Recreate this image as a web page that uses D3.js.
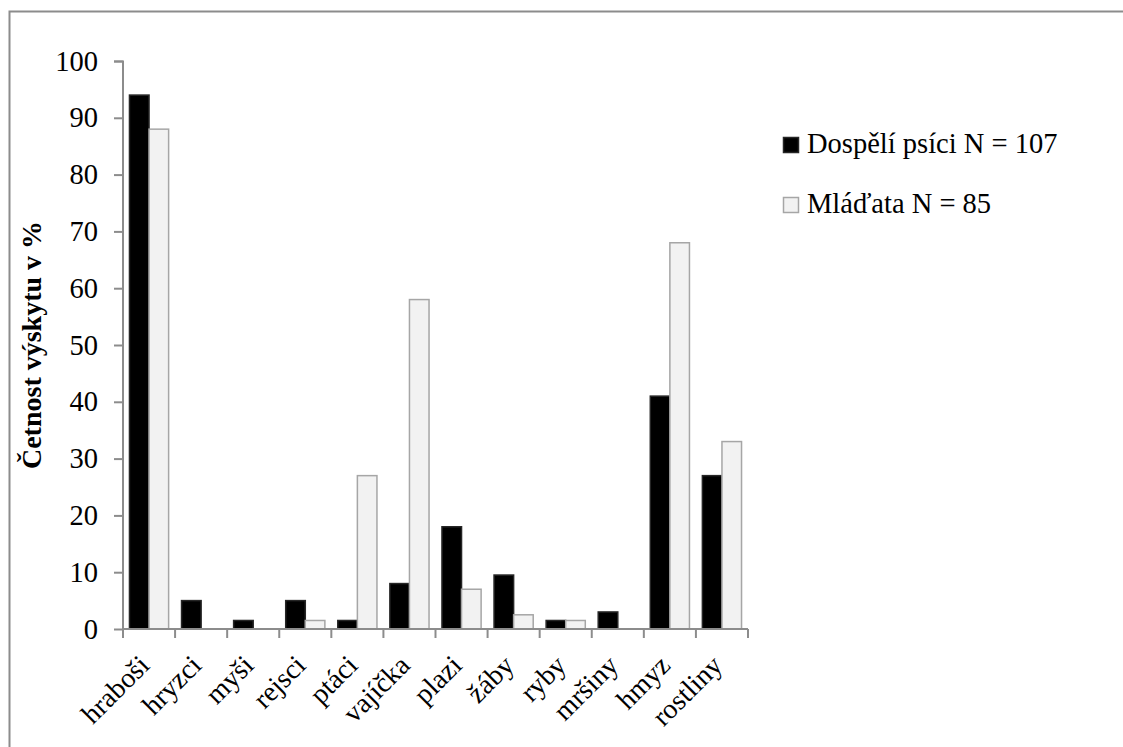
<!DOCTYPE html>
<html>
<head>
<meta charset="utf-8">
<script src="https://cdn.jsdelivr.net/npm/d3@7"></script>
<style>
  html, body { margin: 0; padding: 0; background: #fff; }
  svg { display: block; }
  text { font-family: "Liberation Serif", "DejaVu Serif", serif; fill: #000; }
</style>
</head>
<body>
<svg id="chart" width="1123" height="747"></svg>
<script>
// Food categories and occurrence (%) for adults and young
const categories = ["hraboši", "hryzci", "myši", "rejsci", "ptáci", "vajíčka", "plazi", "žáby", "ryby", "mršiny", "hmyz", "rostliny"];
const adults = [94, 5, 1.5, 5, 1.5, 8, 18, 9.5, 1.5, 3, 41, 27];
const young = [88, 0, 0, 1.5, 27, 58, 7, 2.5, 1.5, 0, 68, 33];
const seriesNames = ["Dospělí psíci N = 107", "Mláďata N = 85"];
const yTicks = [0, 10, 20, 30, 40, 50, 60, 70, 80, 90, 100];
const yTitle = "Četnost výskytu v %";

const svg = d3.select("#chart");
const W = 1123, H = 747;
const m = { left: 123, right: 375, top: 61, bottom: 118 };
const plotW = W - m.left - m.right;
const plotH = H - m.top - m.bottom;

const axisColor = "#8c8c8c";
const fills = ["#000000", "#f2f2f2"];
const strokes = ["#262626", "#a6a6a6"];

// outer frame
svg.append("rect")
  .attr("x", 9.5).attr("y", 11.5)
  .attr("width", W).attr("height", H)
  .attr("fill", "none").attr("stroke", axisColor).attr("stroke-width", 2);

const g = svg.append("g").attr("transform", `translate(${m.left},${m.top})`);

const x = d3.scaleBand().domain(categories).range([0, plotW]).paddingInner(0).paddingOuter(0);
const inner = d3.scaleBand().domain([0, 1]).range([0, x.bandwidth()]).paddingInner(0).paddingOuter(0.33);
const y = d3.scaleLinear().domain([0, 100]).range([plotH, 0]);

// bars
const data = [adults, young];
data.forEach((vals, si) => {
  g.selectAll(null)
    .data(categories.map((c, i) => ({ c, v: vals[i] })).filter(d => d.v > 0))
    .enter().append("rect")
    .attr("x", d => x(d.c) + inner(si))
    .attr("y", d => y(d.v))
    .attr("width", inner.bandwidth())
    .attr("height", d => y(0) - y(d.v))
    .attr("fill", fills[si])
    .attr("stroke", strokes[si])
    .attr("stroke-width", 1.5);
});

// y axis
const yAxis = g.append("g")
  .call(d3.axisLeft(y).tickValues(yTicks).tickSize(9).tickPadding(16).tickFormat(d3.format("d")));
yAxis.select(".domain").attr("stroke", axisColor).attr("stroke-width", 2).attr("d", `M-9,0.5H0V${plotH}`);
yAxis.selectAll(".tick line").attr("stroke", axisColor).attr("stroke-width", 2);
yAxis.selectAll(".tick text").attr("font-size", 28.5).attr("font-family", null).attr("fill", "#000");

// x axis: baseline + ticks at band boundaries
const bounds = d3.range(categories.length + 1).map(i => i * x.step());
const xAxis = g.append("g").attr("transform", `translate(0,${plotH})`);
xAxis.append("line").attr("x1", 0).attr("x2", plotW).attr("stroke", axisColor).attr("stroke-width", 2);
xAxis.selectAll("line.tk").data(bounds).enter().append("line").attr("class", "tk")
  .attr("x1", d => d).attr("x2", d => d).attr("y1", 0).attr("y2", 9)
  .attr("stroke", axisColor).attr("stroke-width", 2);
xAxis.selectAll("text.cat").data(categories).enter().append("text").attr("class", "cat")
  .attr("transform", d => `translate(${x(d) + x.bandwidth() / 2 + 2},${38}) rotate(-45)`)
  .attr("text-anchor", "end")
  .attr("font-size", 28)
  .text(d => d);

// y title
svg.append("text")
  .attr("transform", `translate(41,${m.top + plotH / 2}) rotate(-90)`)
  .attr("text-anchor", "middle")
  .attr("font-size", 28)
  .attr("font-weight", "bold")
  .text(yTitle);

// legend
const legend = svg.append("g").attr("transform", "translate(783,137)");
seriesNames.forEach((name, i) => {
  const row = legend.append("g").attr("transform", `translate(0,${i * 60})`);
  row.append("rect").attr("x", 0.5).attr("y", 0.5).attr("width", 15).attr("height", 15)
    .attr("fill", fills[i]).attr("stroke", strokes[i]).attr("stroke-width", 1.5);
  row.append("text").attr("x", 24).attr("y", 16).attr("font-size", 28.5).text(name);
});
</script>
</body>
</html>
